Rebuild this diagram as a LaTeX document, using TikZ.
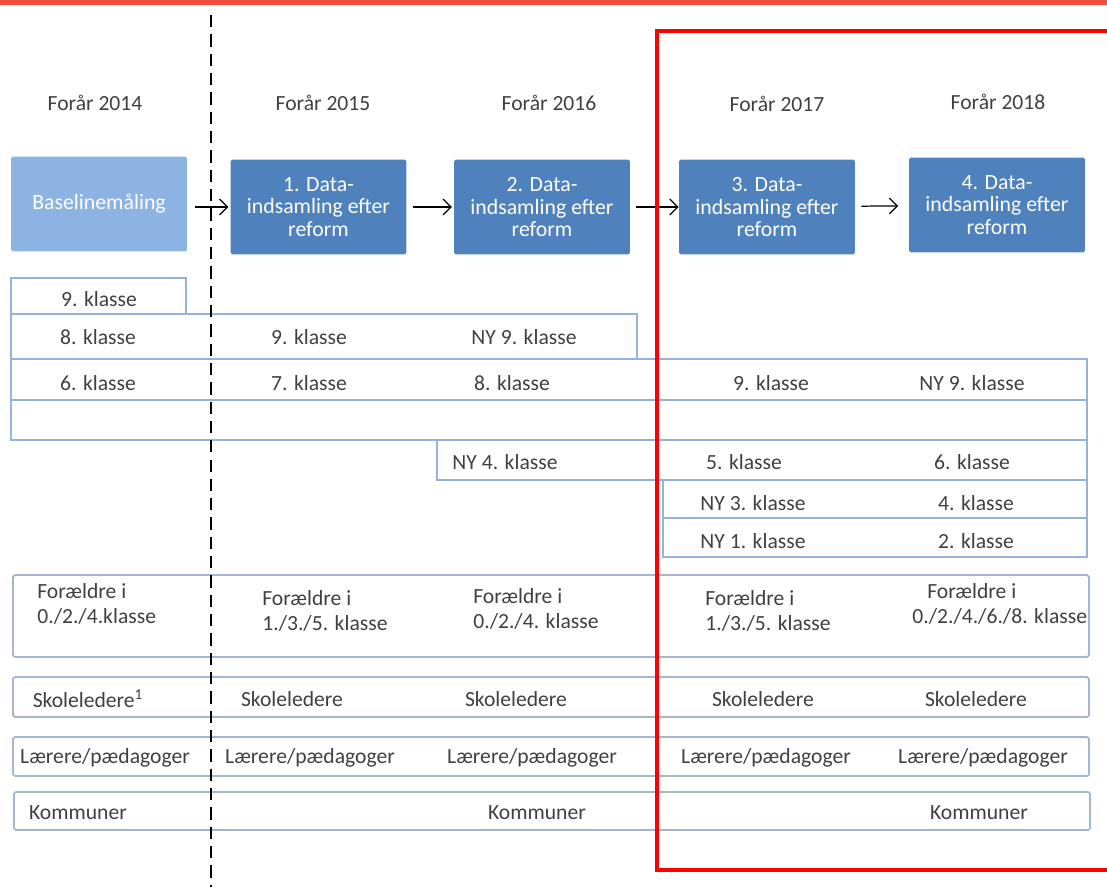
\documentclass[tikz,border=0pt]{standalone}
\usepackage{fontspec}
\setmainfont{Carlito}
\usetikzlibrary{calc,arrows.meta}
\tikzset{>={Straight Barb[length=4.5pt,width=9pt]}}
\definecolor{TopRed}{RGB}{244,76,60}
\definecolor{DataBlue}{RGB}{79,129,189}
\definecolor{BaseBlue}{RGB}{141,179,226}
\definecolor{RowBlue}{RGB}{149,179,215}
\definecolor{BoxGray}{RGB}{165,182,207}
\definecolor{TextGray}{RGB}{64,64,64}
\tikzset{
  databox/.style={fill=DataBlue, text=white, rounded corners=1pt, minimum width=3.52cm, minimum height=1.9cm, align=center, inner sep=2pt, font=\fontsize{12.4}{12.9}\selectfont},
  rowbox/.style={draw=RowBlue, line width=0.8pt},
  groupbox/.style={draw=BoxGray, line width=1pt, rounded corners=1pt},
  lbl/.style={text=TextGray, inner sep=0pt},
  twolines/.style={lbl, align=left, anchor=west, font=\fontsize{12.3}{14.2}\selectfont},
  arr/.style={->, line width=0.7pt, shorten <=4.5pt, shorten >=1pt}
}

\begin{document}
\begin{tikzpicture}[x=0.02cm,y=-0.02cm,font=\fontsize{12.3}{14}\selectfont]
\useasboundingbox (0,0) rectangle (1107,887);
\fill[TopRed] (0,0) rectangle (1107,5);

\node[lbl] (h2014) at (95,103) {Forår 2014};
\node[lbl] (h2015) at (323,103) {Forår 2015};
\node[lbl] (h2016) at (549,103) {Forår 2016};
\node[lbl] (h2017) at (777,104) {Forår 2017};
\node[lbl] (h2018) at (998,102) {Forår 2018};

\node[databox, fill=BaseBlue] (baseline) at (99,204) {Baselinemåling};
\node[databox] (data1) at (318.5,207) {1. Data-\\indsamling efter\\reform};
\node[databox] (data2) at (542,207) {2. Data-\\indsamling efter\\reform};
\node[databox] (data3) at (767,207) {3. Data-\\indsamling efter\\reform};
\node[databox] (data4) at (997,205) {4. Data-\\indsamling efter\\reform};
\draw[arr] (data1.west -| baseline.east) -- (data1.west);
\draw[arr, shorten <=3.5pt] (data1) -- (data2);
\draw[arr, shorten <=3pt, shorten >=0pt] (data2) -- (data3);
\draw[arr, shorten <=3.5pt, shorten >=6pt] (data3) -- (data4);

\draw[rowbox] (11,278) rectangle (186,314);
\draw[rowbox] (11,314) rectangle (637,359);
\draw[rowbox] (11,359) rectangle (1087,400);
\draw[rowbox] (11,400) rectangle (1087,440);
\draw[rowbox] (437,440) rectangle (1087,480);
\draw[rowbox] (663,480) rectangle (1087,518);
\draw[rowbox] (663,518) rectangle (1087,557);

\node[lbl] (k9a) at (99,299) {9. klasse};
\node[lbl] (k8a) at (98,337) {8. klasse};
\node[lbl] (k9b) at (309,337) {9. klasse};
\node[lbl] (k9c) at (524,337) {NY 9. klasse};
\node[lbl] (k6a) at (98,383) {6. klasse};
\node[lbl] (k7a) at (309,383) {7. klasse};
\node[lbl] (k8b) at (512,383) {8. klasse};
\node[lbl] (k9d) at (771,383) {9. klasse};
\node[lbl] (k9e) at (972,383) {NY 9. klasse};
\node[lbl] (k4a) at (505,462) {NY 4. klasse};
\node[lbl] (k5a) at (744,462) {5. klasse};
\node[lbl] (k6b) at (972,462) {6. klasse};
\node[lbl] (k3a) at (753,503) {NY 3. klasse};
\node[lbl] (k4b) at (976,503) {4. klasse};
\node[lbl] (k1a) at (753,541) {NY 1. klasse};
\node[lbl] (k2a) at (976,541) {2. klasse};

\draw[groupbox] (13,575) rectangle (1089,657);
\draw[groupbox] (13,677) rectangle (1089,717);
\draw[groupbox] (13,737) rectangle (1089,776);
\draw[groupbox] (14,792) rectangle (1090,830);

\node[twolines] (f2014) at (37,604) {Forældre i\\0./2./4.klasse};
\node[twolines] (f2015) at (262,611) {Forældre i\\1./3./5. klasse};
\node[twolines] (f2016) at (473,609) {Forældre i\\0./2./4. klasse};
\node[twolines] (f2017) at (705,611) {Forældre i\\1./3./5. klasse};
\node[twolines] (f2018) at (912,604) {\hspace*{0.3cm}Forældre i\\0./2./4./6./8. klasse};

\node[lbl] (s2014) at (88,699) {Skoleledere\textsuperscript{1}};
\node[lbl] (s2015) at (292,699) {Skoleledere};
\node[lbl] (s2016) at (516,699) {Skoleledere};
\node[lbl] (s2017) at (763,699) {Skoleledere};
\node[lbl] (s2018) at (976,699) {Skoleledere};

\node[lbl] (l2014) at (105,758) {Lærere/pædagoger};
\node[lbl] (l2015) at (310,758) {Lærere/pædagoger};
\node[lbl] (l2016) at (532,758) {Lærere/pædagoger};
\node[lbl] (l2017) at (766,758) {Lærere/pædagoger};
\node[lbl] (l2018) at (983,758) {Lærere/pædagoger};

\node[lbl] (m2014) at (78,813) {Kommuner};
\node[lbl] (m2016) at (537,813) {Kommuner};
\node[lbl] (m2018) at (979,813) {Kommuner};

\draw[black, line width=1.6pt, dash pattern=on 7pt off 4pt] (211,15) -- (211,887);
\draw[red, line width=2pt] (1120,31) -- (657,31) -- (657,870) -- (1120,870);
\end{tikzpicture}
\end{document}
